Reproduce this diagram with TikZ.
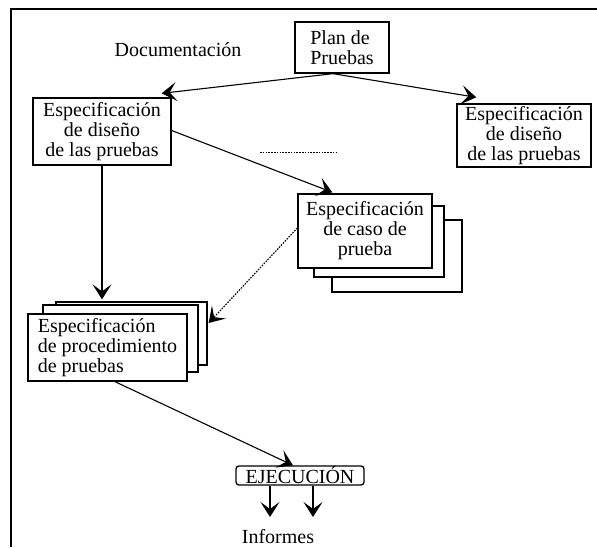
\documentclass[tikz,border=0pt]{standalone}
\usepackage{fontspec}
\setmainfont{Liberation Serif}
\usepackage{tikz}
\usetikzlibrary{arrows.meta,positioning,calc}
\tikzset{
  caja/.style={rectangle,draw=black,line width=1.3pt,fill=white,
               inner sep=0pt,align=center},
  hoja/.style={caja},
  ejecbox/.style={caja,rounded corners=3pt,minimum width=128pt,minimum height=19pt},
  flecha/.style={-{Stealth[length=15pt,width=19pt,inset=7pt]},line width=1.1pt},
  punt/.style={flecha,dash pattern=on 1.6pt off 1.2pt},
  marco/.style={line width=2.5pt},
}

\begin{document}
\begin{tikzpicture}[x=1pt,y=-1pt,every node/.style={font=\fontsize{20}{20}\selectfont}]
  \useasboundingbox (0,0) rectangle (597,547);
  \draw[marco] (11,547) -- (11,9) -- (597,9);

  % cabecera
  \node (doc) at (178,50) {Documentaci\'on};
  \node[caja,align=left,minimum width=94pt,minimum height=51pt] (plan) at (342,47.5)
    {Plan de\\Pruebas};

  % especificaciones de diseno
  \node[caja,minimum width=138pt,minimum height=67pt] (disA) at (102,131.5)
    {Especificaci\'on\\de dise\~no\\de las pruebas};
  \node[caja,minimum width=134pt,minimum height=63pt] (disB) at (524,135.5)
    {Especificaci\'on\\de dise\~no\\de las pruebas};
  \draw[dash pattern=on 1.6pt off 1.2pt,line width=0.9pt] (260,152) -- (338,152);

  % casos de prueba (pila)
  \node[hoja,minimum width=130pt,minimum height=72pt] (casoC) at (397,256) {};
  \node[hoja,minimum width=130pt,minimum height=71pt] (casoB) at (379,241.5) {};
  \node[caja,minimum width=134pt,minimum height=74pt] (casoA) at (365,231)
    {Especificaci\'on\\de caso de\\prueba};

  % procedimiento (pila)
  \node[hoja,minimum width=151pt,minimum height=63pt] (procC) at (131.5,333.5) {};
  \node[hoja,minimum width=155pt,minimum height=67pt] (procB) at (120.5,338.5) {};
  \node[caja,align=left,minimum width=159pt,minimum height=67pt] (procA) at (107.5,347.5)
    {Especificaci\'on\\de procedimiento\\de pruebas};

  % ejecucion
  \node[ejecbox] (ejec) at (300,475.5) {EJECUCI\'ON};
  \node (inf) at (278,537) {Informes};
  \coordinate (i1) at (270,517);
  \coordinate (i2) at (313,517);

  \draw[flecha] ([xshift=-9pt]plan.south) -- ([xshift=-10pt,yshift=4pt]disA.north east);
  \draw[flecha] ([xshift=-9pt]plan.south) -- ([xshift=20pt,yshift=6pt]disB.north west);
  \draw[flecha] ([yshift=1pt]disA.east) -- ([xshift=35pt,yshift=1pt]casoA.north west);
  \draw[flecha] (disA.south) -- ([yshift=2pt]procC.north -| disA.south);
  \draw[punt] ([yshift=3pt]casoA.west) -- ([xshift=1pt,yshift=10.5pt]procC.east);
  \draw[flecha] ([xshift=7.5pt]procA.south) -- ([xshift=-7pt]ejec.north);
  \draw[flecha] (ejec.south -| i1) -- (i1);
  \draw[flecha] (ejec.south -| i2) -- (i2);
\end{tikzpicture}
\end{document}
